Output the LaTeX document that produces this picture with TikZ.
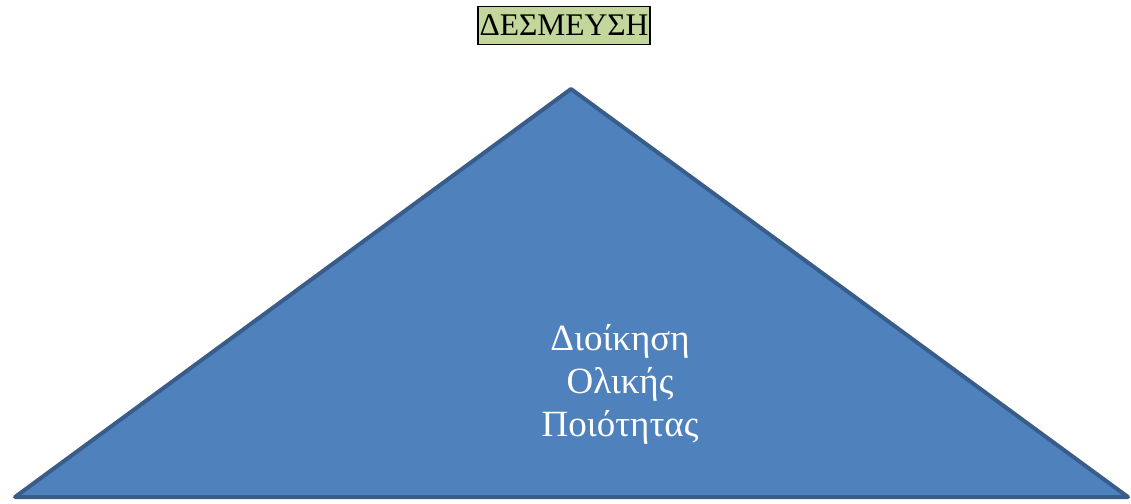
\documentclass[tikz,border=0pt]{standalone}
\usepackage{fontspec}
\setmainfont{Liberation Serif}
\definecolor{trifill}{HTML}{4F81BD}
\definecolor{tristroke}{HTML}{385D8A}
\definecolor{labelfill}{HTML}{C3D69B}
\tikzset{
  tri/.style={fill=trifill, draw=tristroke, line width=4pt, line join=round},
  toplabel/.style={draw=black, line width=1.6pt, fill=labelfill, inner sep=0pt, minimum width=172pt, minimum height=38pt, font=\fontsize{31.5}{34}\selectfont, text=black},
  inner/.style={text=white, align=center, font=\fontsize{37}{43}\selectfont}
}
\begin{document}
\begin{tikzpicture}[x=1pt,y=-1pt]
\useasboundingbox (0,0) rectangle (1131,503);
\coordinate (apex) at (571,89);
\coordinate (bl) at (15,497);
\coordinate (br) at (1128,497);
\draw[tri] (apex) -- (br) -- (bl) -- cycle;
\node[toplabel] (label) at (564,25.5) {ΔΕΣΜΕΥΣΗ};
\node[inner] (txt) at (620,384) {Διοίκηση\\Ολικής\\Ποιότητας};
\end{tikzpicture}
\end{document}
